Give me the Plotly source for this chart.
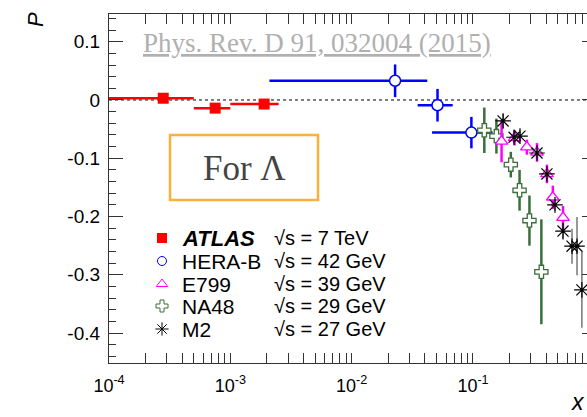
import plotly.graph_objects as go

# ---------------- data ----------------
atlas_x = [2.8e-4, 7.5e-4, 1.9e-3]
atlas_y = [0.003, -0.014, -0.007]
atlas_xlo = [5e-5, 5e-4, 1.0e-3]
atlas_xhi = [5e-4, 1.0e-3, 2.5e-3]
atlas_err = [0.006, 0.006, 0.006]

herab_x = [0.0228, 0.051, 0.097]
herab_y = [0.033, -0.009, -0.056]
herab_xlo = [2.1e-3, 0.035, 0.046]
herab_xhi = [0.042, 0.068, 0.145]
herab_err = [0.028, 0.028, 0.027]

na48_x = [0.124, 0.156, 0.205, 0.242, 0.292, 0.366]
na48_y = [-0.052, -0.062, -0.111, -0.155, -0.207, -0.295]
na48_err = [0.039, 0.030, 0.022, 0.035, 0.043, 0.090]

e799_x = [0.172, 0.22, 0.278, 0.337, 0.407, 0.455, 0.552]
e799_y = [-0.071, -0.065, -0.081, -0.090, -0.127, -0.167, -0.202]
e799_err = [0.036, 0.013, 0.013, 0.016, 0.016, 0.020, 0.020]

m2_x = [0.177, 0.218, 0.244, 0.337, 0.407, 0.474, 0.552, 0.655, 0.72, 0.79]
m2_y = [-0.036, -0.064, -0.062, -0.091, -0.127, -0.180, -0.225, -0.251, -0.251, -0.326]
m2_err = [0.012, 0.010, 0.010, 0.008, 0.008, 0.010, 0.015, 0.030, 0.050, 0.065]

legend_names = ["<b><i>ATLAS</i></b>", "HERA-B", "E799", "NA48", "M2"]
legend_energy = ["√s = 7 TeV", "√s = 42 GeV", "√s = 39 GeV", "√s = 29 GeV", "√s = 27 GeV"]

x_tickvals = [1e-4, 1e-3, 1e-2, 1e-1]
x_ticktext = ["10<sup>-4</sup>", "10<sup>-3</sup>", "10<sup>-2</sup>", "10<sup>-1</sup>"]
y_tickvals = [-0.4, -0.3, -0.2, -0.1, 0, 0.1]
y_ticktext = ["-0.4", "-0.3", "-0.2", "-0.1", "0", "0.1"]

# ---------------- style ----------------
RED = "#ff0000"
BLUE = "#0000ff"
MAG = "#ff00ff"
GREEN = "#3a6e3a"
FONT = "Liberation Sans"

W, H = 587, 417
ML, MT, MB, MR = 109, 14, 54, 0
PW, PH = W - ML - MR, H - MT - MB


def px_x(p):
    return (p - ML) / PW


def px_y(p):
    return (H - MB - p) / PH


fig = go.Figure()

# HERA-B
fig.add_trace(go.Scatter(
    x=herab_x, y=herab_y, mode="markers",
    error_x=dict(type="data", symmetric=False,
                 array=[h - x for h, x in zip(herab_xhi, herab_x)],
                 arrayminus=[x - l for l, x in zip(herab_xlo, herab_x)],
                 color=BLUE, thickness=2.5, width=0),
    error_y=dict(type="data", array=herab_err, color=BLUE, thickness=2.5, width=0),
    marker=dict(symbol="circle", size=11, color="white", line=dict(color=BLUE, width=1.5)),
    showlegend=False, hoverinfo="skip"))

# ATLAS
fig.add_trace(go.Scatter(
    x=atlas_x, y=atlas_y, mode="markers",
    error_x=dict(type="data", symmetric=False,
                 array=[h - x for h, x in zip(atlas_xhi, atlas_x)],
                 arrayminus=[x - l for l, x in zip(atlas_xlo, atlas_x)],
                 color=RED, thickness=2.5, width=0),
    error_y=dict(type="data", array=atlas_err, color=RED, thickness=2.5, width=0),
    marker=dict(symbol="square", size=11, color=RED),
    showlegend=False, hoverinfo="skip"))

# NA48
fig.add_trace(go.Scatter(
    x=na48_x, y=na48_y, mode="markers",
    error_y=dict(type="data", array=na48_err, color=GREEN, thickness=2.5, width=0),
    marker=dict(symbol="cross", size=11, color="white", line=dict(color=GREEN, width=1.3)),
    showlegend=False, hoverinfo="skip"))

# E799
fig.add_trace(go.Scatter(
    x=e799_x, y=e799_y, mode="markers",
    error_y=dict(type="data", array=e799_err, color=MAG, thickness=2.5, width=0),
    marker=dict(symbol="triangle-up", size=11, color="white", line=dict(color=MAG, width=1.3)),
    showlegend=False, hoverinfo="skip"))

# M2
fig.add_trace(go.Scatter(
    x=m2_x, y=m2_y, mode="markers",
    error_y=dict(type="data", array=m2_err, color="#555555", thickness=1.2, width=0),
    marker=dict(symbol="asterisk-open", size=13, color="black", line=dict(color="black", width=1.2)),
    showlegend=False, hoverinfo="skip"))

# right-side ticks axis
fig.add_trace(go.Scatter(x=[None], y=[None], yaxis="y2", showlegend=False, hoverinfo="skip"))

# legend markers (overlay axes)
leg_y_px = [238, 261, 284, 306, 329]
leg_y = [px_y(p) for p in leg_y_px]
leg_marker_x = px_x(162)
leg_styles = [
    dict(symbol="square", size=10, color=RED),
    dict(symbol="circle-open", size=9, color=BLUE, line=dict(color=BLUE, width=1)),
    dict(symbol="triangle-up-open", size=10, color=MAG, line=dict(color=MAG, width=1)),
    dict(symbol="cross-open", size=10, color=GREEN, line=dict(color=GREEN, width=1)),
    dict(symbol="asterisk-open", size=11, color="black", line=dict(color="black", width=1)),
]
for yy, st in zip(leg_y, leg_styles):
    fig.add_trace(go.Scatter(x=[leg_marker_x], y=[yy], xaxis="x2", yaxis="y3", mode="markers",
                             marker=st, showlegend=False, hoverinfo="skip"))

annotations = []
for i, (yy, nm, en) in enumerate(zip(leg_y, legend_names, legend_energy)):
    annotations.append(dict(x=px_x(180), y=yy, xref="paper", yref="paper", text=nm,
                            showarrow=False, xanchor="left", yanchor="middle",
                            font=dict(family=FONT, size=22 if i == 0 else 21, color="black")))
    annotations.append(dict(x=px_x(272), y=yy, xref="paper", yref="paper", text=en,
                            showarrow=False, xanchor="left", yanchor="middle",
                            font=dict(family=FONT, size=20, color="black")))

# axis titles
annotations.append(dict(x=px_x(36), y=px_y(20), xref="paper", yref="paper", text="<i>P</i>",
                        showarrow=False, textangle=-90, xanchor="center", yanchor="middle",
                        font=dict(family=FONT, size=22, color="black")))
annotations.append(dict(x=px_x(578), y=px_y(H), xref="paper", yref="paper", text="<i>x</i>",
                        showarrow=False, xanchor="center", yanchor="bottom",
                        font=dict(family=FONT, size=23, color="black")))

# reference
annotations.append(dict(x=px_x(317), y=px_y(43), xref="paper", yref="paper",
                        text="<u>Phys. Rev. D 91, 032004 (2015)</u>",
                        showarrow=False, xanchor="center", yanchor="middle",
                        font=dict(family="Liberation Serif", size=27, color="#b0b0b0")))
# For Lambda
annotations.append(dict(x=px_x(244), y=px_y(168), xref="paper", yref="paper",
                        text="For Λ", showarrow=False, xanchor="center", yanchor="middle",
                        font=dict(family="Liberation Serif", size=35, color="#444444")))

shapes = [
    dict(type="line", xref="paper", yref="y", x0=0, x1=1, y0=0, y1=0,
         line=dict(color="black", width=1, dash="dot"), layer="below"),
    dict(type="rect", xref="paper", yref="paper", x0=px_x(170), x1=px_x(318),
         y0=px_y(200), y1=px_y(135), line=dict(color="#fbb03b", width=2.5)),
]

minor_x = [m * 10 ** e for e in range(-4, 0) for m in range(2, 10)]

fig.update_layout(
    width=W, height=H,
    margin=dict(l=ML, r=MR, t=MT, b=MB, pad=0),
    paper_bgcolor="white", plot_bgcolor="white",
    font=dict(family=FONT, size=18, color="black"),
    xaxis=dict(type="log", range=[-4, -4 + PW / 121.33],
               tickmode="array", tickvals=x_tickvals, ticktext=x_ticktext,
               ticks="inside", ticklen=10, tickwidth=1.2, tickcolor="#333",
               showline=True, linecolor="#333", linewidth=1.2, mirror="allticks",
               showgrid=False, zeroline=False, ticklabelstandoff=6,
               tickfont=dict(family=FONT, size=18, color="black"),
               minor=dict(tickmode="array", tickvals=minor_x, ticks="inside", ticklen=5,
                          tickwidth=1.2, tickcolor="#333", showgrid=False)),
    yaxis=dict(range=[-0.4515, 0.1476], tickmode="array", tickvals=y_tickvals, ticktext=y_ticktext,
               ticks="inside", ticklen=14, tickwidth=1.2, tickcolor="#333",
               showline=True, linecolor="#333", linewidth=1.2, mirror=False,
               showgrid=False, zeroline=False, ticklabelstandoff=4,
               tickfont=dict(family=FONT, size=19, color="black"),
               minor=dict(tick0=0, dtick=0.02, ticks="inside", ticklen=7,
                          tickwidth=1.2, tickcolor="#333", showgrid=False)),
    yaxis2=dict(overlaying="y", side="right", anchor="x", range=[-0.4515, 0.1476],
                tickmode="array", tickvals=y_tickvals, ticks="inside", ticklen=5,
                tickwidth=1.2, tickcolor="#333", showticklabels=False, showline=False,
                showgrid=False, zeroline=False),
    xaxis2=dict(overlaying="x", range=[0, 1], visible=False),
    yaxis3=dict(overlaying="y", range=[0, 1], visible=False),
    annotations=annotations,
    shapes=shapes,
)

fig.write_html("out.html", config={"displayModeBar": False},
               post_script="document.body.style.margin='0';document.body.style.overflow='hidden';")
